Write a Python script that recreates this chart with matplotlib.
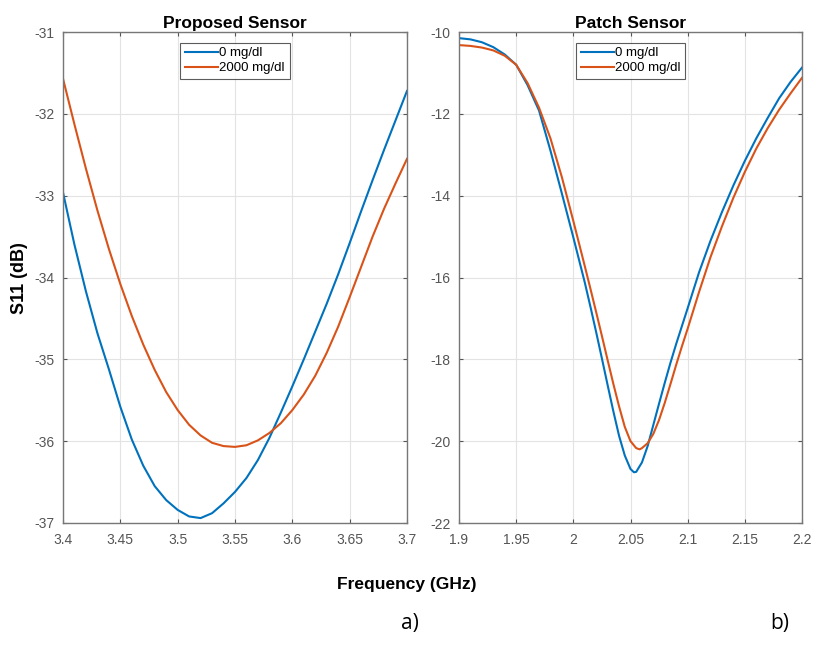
import numpy as np
import matplotlib.pyplot as plt

plt.rcParams['axes.unicode_minus'] = False
plt.rcParams['font.family'] = ['Liberation Sans', 'DejaVu Sans']

# proposed sensor (left)
freq_a = [3.40, 3.41, 3.42, 3.43, 3.44, 3.45, 3.46, 3.47, 3.48, 3.49,
          3.50, 3.51, 3.52, 3.53, 3.54, 3.55, 3.56, 3.57, 3.58, 3.59,
          3.60, 3.61, 3.62, 3.63, 3.64, 3.65, 3.66, 3.67, 3.68, 3.69, 3.70]
s11_a_0 = [-32.96, -33.60, -34.17, -34.68, -35.12, -35.58, -35.98, -36.30, -36.55, -36.72,
           -36.84, -36.92, -36.94, -36.88, -36.76, -36.62, -36.45, -36.23, -35.96, -35.65,
           -35.33, -35.00, -34.66, -34.32, -33.96, -33.58, -33.19, -32.81, -32.44, -32.08, -31.72]
s11_a_2000 = [-31.57, -32.13, -32.67, -33.18, -33.65, -34.08, -34.47, -34.82, -35.13, -35.40,
              -35.62, -35.80, -35.93, -36.02, -36.06, -36.07, -36.05, -35.99, -35.90, -35.78,
              -35.62, -35.43, -35.20, -34.92, -34.60, -34.24, -33.87, -33.50, -33.16, -32.85, -32.55]

# patch sensor (right)
freq_b0 = [1.90, 1.91, 1.92, 1.93, 1.94, 1.95, 1.96, 1.97, 1.98, 1.99, 2.00, 2.01,
           2.015, 2.02, 2.025, 2.03, 2.035, 2.04, 2.045, 2.05, 2.053, 2.055, 2.06, 2.065,
           2.07, 2.075, 2.08, 2.085, 2.09, 2.10, 2.11, 2.12, 2.13, 2.14, 2.15, 2.16,
           2.17, 2.18, 2.19, 2.20]
s11_b_0 = [-10.15, -10.18, -10.25, -10.37, -10.55, -10.80, -11.30, -11.92, -12.90, -13.95, -15.02, -16.12,
           -16.72, -17.34, -17.98, -18.63, -19.27, -19.87, -20.35, -20.68, -20.76, -20.75, -20.52, -20.12,
           -19.60, -19.08, -18.57, -18.08, -17.62, -16.75, -15.87, -15.10, -14.40, -13.75, -13.15, -12.60,
           -12.10, -11.62, -11.22, -10.87]
freq_b2 = [1.90, 1.91, 1.92, 1.93, 1.94, 1.95, 1.96, 1.97, 1.98, 1.99, 2.00, 2.01,
           2.015, 2.02, 2.025, 2.03, 2.035, 2.04, 2.045, 2.05, 2.055, 2.058, 2.06, 2.065,
           2.07, 2.075, 2.08, 2.085, 2.09, 2.095, 2.10, 2.11, 2.12, 2.13, 2.14, 2.15,
           2.16, 2.17, 2.18, 2.19, 2.20]
s11_b_2000 = [-10.32, -10.34, -10.38, -10.45, -10.58, -10.80, -11.25, -11.85, -12.60, -13.55, -14.62, -15.72,
              -16.28, -16.85, -17.43, -18.02, -18.60, -19.15, -19.65, -20.00, -20.17, -20.20, -20.17, -20.05,
              -19.82, -19.48, -19.06, -18.60, -18.13, -17.68, -17.25, -16.35, -15.50, -14.75, -14.05, -13.42,
              -12.85, -12.35, -11.90, -11.50, -11.12]

xt_a = [3.4, 3.45, 3.5, 3.55, 3.6, 3.65, 3.7]
xt_a_lbl = ['3.4', '3.45', '3.5', '3.55', '3.6', '3.65', '3.7']
yt_a = [-37, -36, -35, -34, -33, -32, -31]
xt_b = [1.9, 1.95, 2.0, 2.05, 2.1, 2.15, 2.2]
xt_b_lbl = ['1.9', '1.95', '2', '2.05', '2.1', '2.15', '2.2']
yt_b = [-22, -20, -18, -16, -14, -12, -10]

blue = '#0072BD'
orange = '#D95319'

fig = plt.figure(figsize=(8.13, 6.51), dpi=100)
ax1 = fig.add_axes([63/813, 1-523/651, 344/813, 491/651])
ax2 = fig.add_axes([459/813, 1-523/651, 343/813, 491/651])

def style(ax, xt, xl, yt, title):
    ax.set_xticks(xt)
    ax.set_xticklabels(xl)
    ax.set_yticks(yt)
    ax.set_yticklabels([str(v) for v in yt])
    ax.set_xlim(xt[0], xt[-1])
    ax.set_ylim(yt[0], yt[-1])
    ax.grid(True, color='#e3e3e3', linewidth=0.8)
    ax.set_axisbelow(True)
    ax.tick_params(direction='in', length=3, labelsize=10, colors='#555555',
                   top=True, right=True)
    ax.tick_params(axis='x', pad=7)
    ax.tick_params(axis='y', pad=6)
    for s in ax.spines.values():
        s.set_color('#777777')
        s.set_linewidth(1.0)
    ax.set_title(title, fontsize=12.5, fontweight='bold', pad=3)
    leg = ax.legend(loc='upper center', fontsize=9.5, frameon=True, fancybox=False,
                    edgecolor='#333333', borderaxespad=0.8, handlelength=2.5,
                    handletextpad=0.1, borderpad=0.35, labelspacing=0.2)
    leg.get_frame().set_linewidth(0.8)

ax1.plot(freq_a, s11_a_0, color=blue, lw=1.5, label='0 mg/dl')
ax1.plot(freq_a, s11_a_2000, color=orange, lw=1.5, label='2000 mg/dl')
style(ax1, xt_a, xt_a_lbl, yt_a, 'Proposed Sensor')

ax2.plot(freq_b0, s11_b_0, color=blue, lw=1.5, label='0 mg/dl')
ax2.plot(freq_b2, s11_b_2000, color=orange, lw=1.5, label='2000 mg/dl')
style(ax2, xt_b, xt_b_lbl, yt_b, 'Patch Sensor')

fig.text(19/813, 1-278/651, 'S11 (dB)', rotation=90, ha='center', va='center',
         fontsize=13, fontweight='bold')
fig.text(407/813, 1-585/651, 'Frequency (GHz)', ha='center', va='center',
         fontsize=12.5, fontweight='bold')
fig.text(410/813, 1-623/651, 'a)', ha='center', va='center', fontsize=15,
         family=['Open Sans', 'DejaVu Sans'])
fig.text(780/813, 1-623/651, 'b)', ha='center', va='center', fontsize=15,
         family=['Open Sans', 'DejaVu Sans'])

fig.savefig('out.png', dpi=100)
